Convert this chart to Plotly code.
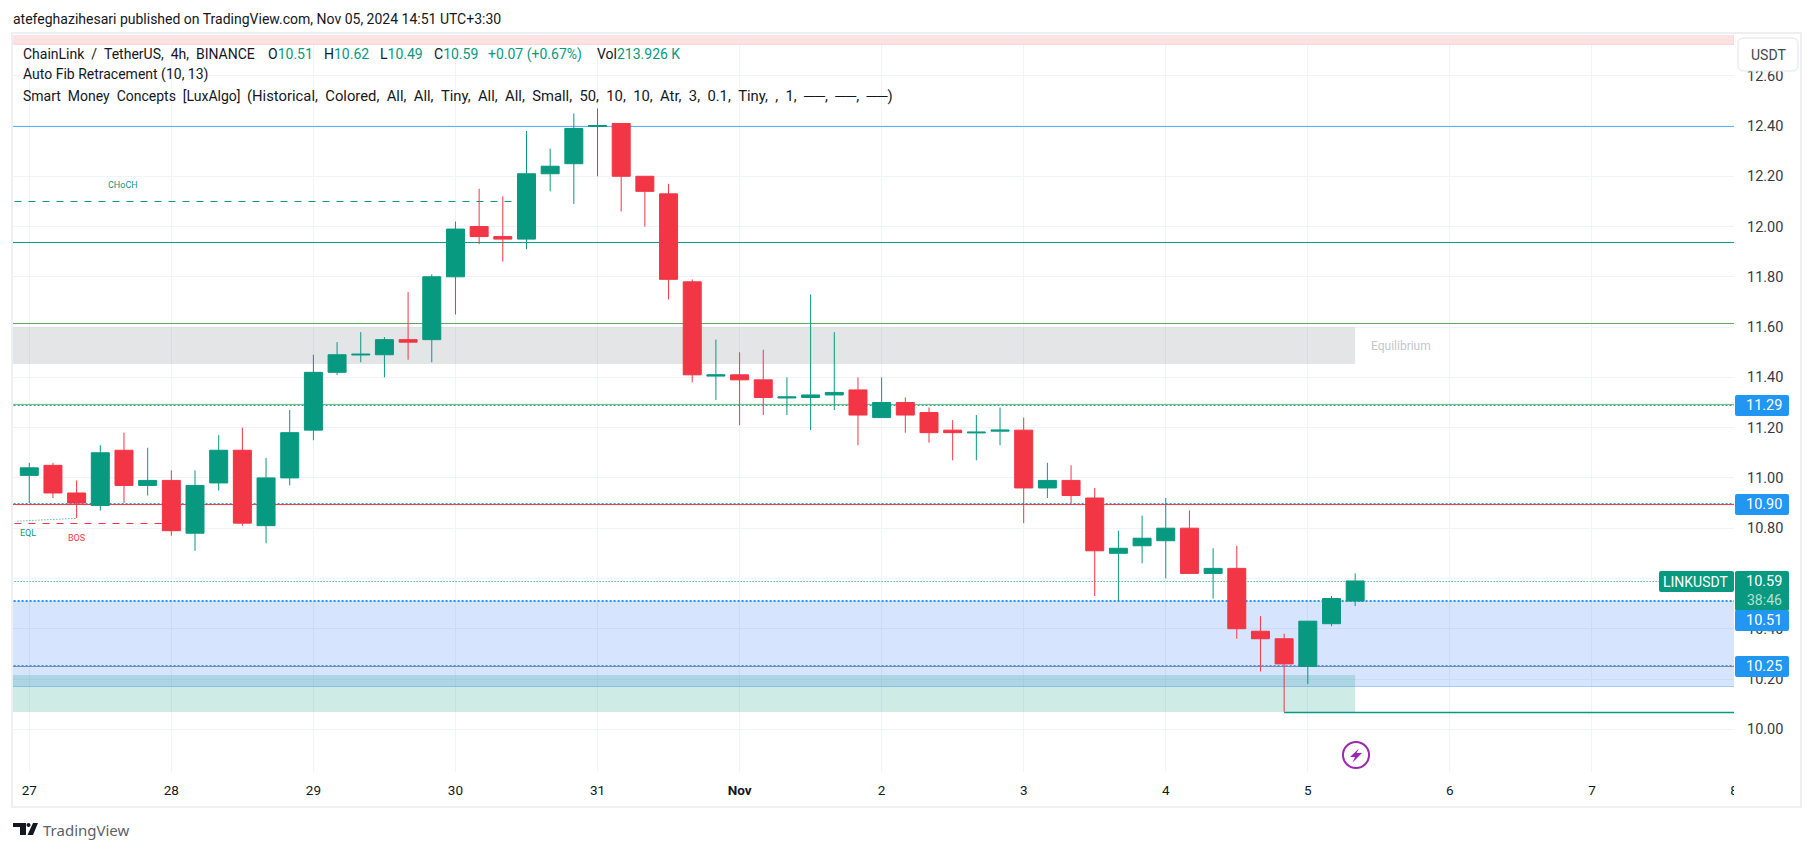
import pandas as pd
import plotly.graph_objects as go

# OHLC, one candle every 4 hours from Oct 27
opens = [11.01, 11.05, 10.94, 10.89, 11.11, 10.97, 10.99, 10.78, 10.98, 11.11, 10.81, 11.00, 11.19, 11.42, 11.489,
         11.49, 11.55, 11.55, 11.80, 12.00, 11.96, 11.95, 12.21, 12.25, 12.398, 12.41, 12.20, 12.13, 11.78, 11.405,
         11.41, 11.39, 11.318, 11.32, 11.33, 11.35, 11.24, 11.30, 11.26, 11.19, 11.179, 11.186, 11.19, 10.96, 10.99,
         10.92, 10.70, 10.73, 10.75, 10.80, 10.62, 10.64, 10.39, 10.36, 10.25, 10.42, 10.51]
highs = [11.06, 11.06, 10.99, 11.13, 11.18, 11.12, 11.03, 11.03, 11.17, 11.20, 11.08, 11.27, 11.49, 11.54, 11.58,
         11.56, 11.74, 11.81, 12.02, 12.15, 12.12, 12.38, 12.31, 12.45, 12.47, 12.41, 12.20, 12.17, 11.79, 11.55,
         11.50, 11.51, 11.40, 11.73, 11.58, 11.40, 11.40, 11.32, 11.28, 11.23, 11.25, 11.28, 11.24, 11.06, 11.05,
         10.96, 10.79, 10.85, 10.92, 10.87, 10.72, 10.73, 10.45, 10.38, 10.43, 10.53, 10.62]
lows = [10.90, 10.92, 10.84, 10.87, 10.90, 10.93, 10.77, 10.71, 10.95, 10.81, 10.74, 10.97, 11.15, 11.41, 11.46,
        11.40, 11.47, 11.46, 11.65, 11.93, 11.86, 11.91, 12.14, 12.09, 12.20, 12.06, 12.00, 11.71, 11.38, 11.31,
        11.21, 11.25, 11.25, 11.19, 11.27, 11.13, 11.24, 11.18, 11.14, 11.07, 11.07, 11.13, 10.82, 10.92, 10.90,
        10.53, 10.51, 10.66, 10.60, 10.62, 10.52, 10.36, 10.23, 10.07, 10.18, 10.41, 10.49]
closes = [11.04, 10.94, 10.90, 11.10, 10.97, 10.99, 10.79, 10.97, 11.11, 10.82, 11.00, 11.18, 11.42, 11.49, 11.492,
          11.55, 11.54, 11.80, 11.99, 11.96, 11.95, 12.21, 12.24, 12.39, 12.402, 12.20, 12.14, 11.79, 11.41, 11.41,
          11.39, 11.32, 11.322, 11.33, 11.34, 11.25, 11.30, 11.25, 11.18, 11.18, 11.182, 11.19, 10.96, 10.99, 10.93,
          10.71, 10.72, 10.76, 10.80, 10.62, 10.64, 10.40, 10.36, 10.26, 10.43, 10.52, 10.59]

price_ticks = [10.0, 10.2, 10.4, 10.6, 10.8, 11.0, 11.2, 11.4, 11.6, 11.8, 12.0, 12.2, 12.4, 12.6]
day_ticks = ['2024-10-27', '2024-10-28', '2024-10-29', '2024-10-30', '2024-10-31', '2024-11-01', '2024-11-02',
             '2024-11-03', '2024-11-04', '2024-11-05', '2024-11-06', '2024-11-07', '2024-11-08']
day_labels = ['27', '28', '29', '30', '31', '<b>Nov</b>', '2', '3', '4', '5', '6', '7', '8']

GREEN = '#089981'
RED = '#f23645'
BLUE = '#2196f3'

times = pd.date_range('2024-10-27', periods=len(opens), freq='4h')

# plot area in page pixels
LEFT, RIGHT, TOP, BOTTOM = 13, 1734, 35, 772
Y_MIN, Y_MAX = 9.83, 12.762


def px(x):
    return (x - LEFT) / (RIGHT - LEFT)


def py(y):
    return (BOTTOM - y) / (BOTTOM - TOP)


def rounded(x0, y0, x1, y1, r=2):
    # rounded box as a paper path, from page pixels
    pts = [('M', x0 + r, y0), ('L', x1 - r, y0), ('Q', x1, y0, x1, y0 + r), ('L', x1, y1 - r),
           ('Q', x1, y1, x1 - r, y1), ('L', x0 + r, y1), ('Q', x0, y1, x0, y1 - r), ('L', x0, y0 + r),
           ('Q', x0, y0, x0 + r, y0)]
    out = ''
    for p in pts:
        vals = p[1:]
        coords = []
        for i in range(0, len(vals), 2):
            coords.append(f'{px(vals[i]):.5f},{py(vals[i + 1]):.5f}')
        out += p[0] + ' '.join(coords) + ' '
    return out + 'Z'


def poly(points):
    return 'M' + ' L'.join(f'{px(a):.5f},{py(b):.5f}' for a, b in points) + ' Z'


fig = go.Figure()

fig.add_trace(go.Candlestick(
    x=times, open=opens, high=highs, low=lows, close=closes,
    increasing=dict(line=dict(color=GREEN, width=1), fillcolor=GREEN),
    decreasing=dict(line=dict(color=RED, width=1), fillcolor=RED),
    whiskerwidth=0,
    hoverinfo='skip',
))


def zone(x0, x1, y0, y1, color, line=None):
    fig.add_shape(type='rect', xref='x', yref='y', x0=x0, x1=x1, y0=y0, y1=y1, fillcolor=color,
                  line=dict(width=0) if line is None else dict(color=line, width=1), layer='between')


def level(x0, x1, y, color, dash='solid', width=1):
    fig.add_shape(type='line', xref='x', yref='y', x0=x0, x1=x1, y0=y, y1=y,
                  line=dict(color=color, width=width, dash=dash), layer='between')


x_start = '2024-10-26 20:00'
x_end = '2024-11-08'
x_zone_end = '2024-11-05 08:00'
DOTS = '2px,2px'

zone(x_start, x_end, 12.725, 12.9, '#fde2e2', '#fbd3d3')
zone(x_start, x_zone_end, 11.453, 11.599, 'rgba(120,123,134,0.2)')
zone(x_start, x_end, 10.1702, 10.5103, 'rgba(41,110,245,0.19)')
level(x_start, x_end, 10.1702, '#a9c9fb')
zone(x_start, x_zone_end, 10.069, 10.216, 'rgba(8,153,129,0.2)')

level(x_start, x_end, 12.398, '#5fb4f5')
level(x_start, x_end, 11.9366, GREEN)
level(x_start, x_end, 11.6143, '#5aa95e')
level(x_start, x_end, 11.2925, '#66bb6a')
level(x_start, x_end, 11.288, BLUE, DOTS)
level(x_start, x_end, 10.894, RED)
level(x_start, x_end, 10.898, BLUE, DOTS)
level(x_start, x_end, 10.588, GREEN, '1px,2px')
level(x_start, x_end, 10.5103, BLUE, DOTS, 2)
level(x_start, x_end, 10.2497, '#6b90c8')
level(x_start, x_end, 10.2533, '#3f83d6', DOTS)
level('2024-11-04 20:00', x_end, 10.0667, GREEN, width=1.5)

level('2024-10-26 21:30', '2024-10-30 12:00', 12.0996, GREEN, '7px,7px')
level('2024-10-26 21:30', '2024-10-28 00:00', 10.8186, RED, '7px,7px')
fig.add_shape(type='line', xref='x', yref='y', x0='2024-10-26 22:00', x1='2024-10-27 08:00', y0=10.828, y1=10.839,
              line=dict(color=GREEN, width=1, dash='1px,2px'), layer='between')

fig.update_layout(
    width=1814, height=851,
    margin=dict(l=LEFT, r=1814 - RIGHT, t=TOP, b=851 - BOTTOM, pad=0),
    paper_bgcolor='white', plot_bgcolor='white',
    showlegend=False, boxgap=0.24, boxgroupgap=0,
    font=dict(family='Roboto', size=13.5, color='#131722'),
    xaxis=dict(type='date', range=['2024-10-26 21:15', '2024-11-08 00:00'], rangeslider=dict(visible=False),
               tickmode='array', tickvals=day_ticks, ticktext=day_labels, showgrid=True, gridcolor='#f0f3fa',
               gridwidth=1, ticks='', ticklabelstandoff=8, zeroline=False, showline=False),
    yaxis=dict(side='right', range=[Y_MIN, Y_MAX], tickmode='array', tickvals=price_ticks,
               ticktext=[f'{v:.2f}' for v in price_ticks], showgrid=True, gridcolor='#f0f3fa', gridwidth=1,
               ticks='', ticklabelstandoff=12, zeroline=False, showline=False,
               tickfont=dict(color='#363a45', size=14.5)),
)

# frame round chart and axes
fig.add_shape(type='rect', xref='paper', yref='paper', x0=px(12), x1=px(1801), y0=py(807), y1=py(33),
              line=dict(color='#eeeef3', width=2), layer='above')

# white mask for the clipped last date label, then price tags over the axis
fig.add_shape(type='rect', xref='paper', yref='paper', x0=px(RIGHT), x1=px(1760), y0=py(800), y1=py(776),
              fillcolor='white', line=dict(width=0), layer='above')
fig.add_shape(type='path', xref='paper', yref='paper', path=rounded(1738, 38, 1798, 71, 6), fillcolor='white',
              line=dict(color='#e0e3eb', width=1), layer='above')


def tag(x0, x1, y0, y1, color):
    fig.add_shape(type='path', xref='paper', yref='paper', path=rounded(x0, y0, x1, y1), fillcolor=color,
                  line=dict(width=0), layer='above')


def label(x, y, text, color='#131722', size=14, anchor='center', family='Roboto'):
    fig.add_annotation(xref='paper', yref='paper', x=px(x), y=py(y), text=text, showarrow=False, xanchor=anchor,
                       yanchor='middle', align='left', font=dict(color=color, size=size, family=family))


tag(1735, 1789, 395, 416, BLUE)
tag(1735, 1789, 494, 515, BLUE)
tag(1735, 1789, 571, 611, GREEN)
tag(1659, 1734, 571, 592, GREEN)
tag(1735, 1789, 610, 631, BLUE)
tag(1735, 1789, 656, 677, BLUE)
label(1764, 405.5, '11.29', 'white', 14.5)
label(1764, 504.5, '10.90', 'white', 14.5)
label(1764, 581.5, '10.59', 'white', 14.5)
label(1764, 600, '38:46', '#b5e0d6', 14)
label(1696, 581.5, 'LINKUSDT', 'white', 14)
label(1764, 620.5, '10.51', 'white', 14.5)
label(1764, 666.5, '10.25', 'white', 14.5)
label(1768, 55, 'USDT', '#434651', 14)

# header, legend
SP = '&nbsp;&nbsp;'
label(11, 19, 'atefeghazihesari published on TradingView.com, Nov 05, 2024 14:51 UTC+3:30', '#131722', 14, 'left')
label(21, 54, 'ChainLink / TetherUS, 4h, BINANCE'.replace(' ', SP), '#131722', 14, 'left')
label(266, 54, f'O<span style="color:{GREEN}">10.51</span>', '#131722', 14, 'left')
label(322, 54, f'H<span style="color:{GREEN}">10.62</span>', '#131722', 14, 'left')
label(378, 54, f'L<span style="color:{GREEN}">10.49</span>', '#131722', 14, 'left')
label(432, 54, f'C<span style="color:{GREEN}">10.59</span>', '#131722', 14, 'left')
label(486, 54, '+0.07 (+0.67%)', GREEN, 14, 'left')
label(595, 54, f'Vol<span style="color:{GREEN}">213.926 K</span>', '#131722', 14, 'left')
label(21, 75, 'Auto Fib Retracement (10, 13)', '#131722', 14, 'left')
label(21, 96, 'Smart Money Concepts [LuxAlgo]'.replace(' ', SP), '#131722', 14, 'left')
label(245, 96, '(Historical, Colored, All, All, Tiny, All, All, Small, 50, 10, 10, '
               'Atr, 3, 0.1, Tiny, , 1, ──, ──, ──)'.replace(' ', SP), '#131722', 14.8, 'left')

# small labels from the indicator
label(123, 185, 'CHoCH', GREEN, 9)
label(28, 533, 'EQL', GREEN, 9)
label(76, 538, 'BOS', RED, 9)
label(1401, 346, 'Equilibrium', '#c5c8cc', 12)

# lightning badge
fig.add_shape(type='circle', xref='paper', yref='paper', x0=px(1343), x1=px(1369), y0=py(768), y1=py(742),
              line=dict(color='#9c27b0', width=2), fillcolor='white', layer='above')
fig.add_shape(type='path', xref='paper', yref='paper', fillcolor='#9c27b0', line=dict(width=0), layer='above',
              path=poly([(1359, 748.5), (1350, 757), (1355, 757), (1352.5, 762.5), (1362, 753), (1356.5, 753)]))

# TradingView logo
logo_color = '#131722'
fig.add_shape(type='path', xref='paper', yref='paper', fillcolor=logo_color, line=dict(width=0), layer='above',
              path=poly([(13, 823), (26, 823), (26, 835), (20, 835), (20, 827), (13, 827)]))
fig.add_shape(type='circle', xref='paper', yref='paper', x0=px(26.5), x1=px(30.5), y0=py(827), y1=py(823),
              fillcolor=logo_color, line=dict(width=0), layer='above')
fig.add_shape(type='path', xref='paper', yref='paper', fillcolor=logo_color, line=dict(width=0), layer='above',
              path=poly([(33, 823), (38, 823), (33, 835), (27.5, 835)]))
label(41, 830, 'TradingView', '#5d606b', 15, 'left', 'Noto Sans')

fig.write_html('out.html', config=dict(displayModeBar=False), post_script="document.body.style.margin='0';")
